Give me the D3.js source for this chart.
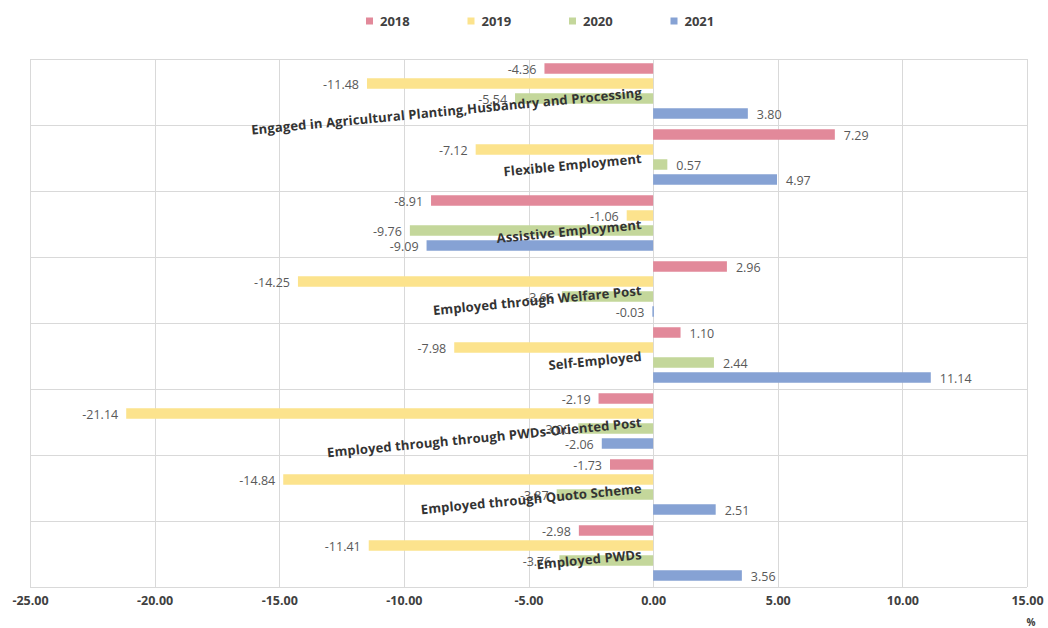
<!DOCTYPE html>
<html>
<head>
<meta charset="utf-8">
<script src="https://cdn.jsdelivr.net/npm/d3@7/dist/d3.min.js"></script>
<style>
  html, body { margin: 0; padding: 0; background: #fff; }
  svg { display: block; }
</style>
</head>
<body>
<svg id="chart" width="1048" height="628"></svg>
<script>
// Employment categories of persons with disabilities, top to bottom
const categories = [
  "Engaged in Agricultural Planting,Husbandry and Processing",
  "Flexible Employment",
  "Assistive Employment",
  "Employed through Welfare Post",
  "Self-Employed",
  "Employed through through PWDs-Oriented Post",
  "Employed through Quoto Scheme",
  "Employed PWDs"
];
const years = ["2018", "2019", "2020", "2021"];

// Year-on-year change (%) per category
const values2018 = [-4.36, 7.29, -8.91, 2.96, 1.10, -2.19, -1.73, -2.98];
const values2019 = [-11.48, -7.12, -1.06, -14.25, -7.98, -21.14, -14.84, -11.41];
const values2020 = [-5.54, 0.57, -9.76, -3.66, 2.44, -3.00, -3.87, -3.76];
const values2021 = [3.80, 4.97, -9.09, -0.03, 11.14, -2.06, 2.51, 3.56];

const xTicks = [-25, -20, -15, -10, -5, 0, 5, 10, 15];
const colors = ["#E2899A", "#FCE38D", "#C4D79B", "#86A2D4"];

const seriesValues = [values2018, values2019, values2020, values2021];

// Two-decimal format with a plain hyphen as the minus sign
const fmt = d3.formatLocale({
  decimal: ".", thousands: ",", grouping: [3], currency: ["", ""], minus: "-"
}).format(".2f");

const svg = d3.select("#chart");
const margin = { left: 30, right: 21, top: 59, bottom: 41 };
const W = 1048, H = 628;

const x = d3.scaleLinear()
  .domain([-25, 15])
  .range([margin.left, W - margin.right]);

const y = d3.scaleBand()
  .domain(categories)
  .range([margin.top, H - margin.bottom])
  .padding(0);

const yInner = d3.scaleBand()
  .domain(years)
  .range([2, y.bandwidth() - 4])
  .paddingInner(0.3)
  .paddingOuter(0.15);

const color = d3.scaleOrdinal().domain(years).range(colors);

// Grid: vertical lines at every tick, horizontal lines between categories
const grid = svg.append("g").attr("stroke", "#d9d9d9").attr("stroke-width", 1);
grid.selectAll("line.v")
  .data(xTicks)
  .join("line")
  .attr("class", "v")
  .attr("x1", d => Math.round(x(d)) + 0.5)
  .attr("x2", d => Math.round(x(d)) + 0.5)
  .attr("y1", margin.top)
  .attr("y2", H - margin.bottom);
grid.selectAll("line.h")
  .data(categories.concat([null]))
  .join("line")
  .attr("class", "h")
  .attr("x1", margin.left)
  .attr("x2", W - margin.right)
  .attr("y1", (d, i) => Math.round(i < categories.length ? y(d) : H - margin.bottom) + 0.5)
  .attr("y2", (d, i) => Math.round(i < categories.length ? y(d) : H - margin.bottom) + 0.5);

// Flattened records for bars and labels
const records = [];
categories.forEach((c, ci) => {
  years.forEach((yr, si) => {
    records.push({ category: c, year: yr, value: seriesValues[si][ci] });
  });
});

svg.append("g")
  .selectAll("rect")
  .data(records)
  .join("rect")
  .attr("x", d => Math.min(x(0), x(d.value)))
  .attr("width", d => Math.max(1.5, Math.abs(x(d.value) - x(0))))
  .attr("y", d => y(d.category) + yInner(d.year))
  .attr("height", yInner.bandwidth())
  .attr("fill", d => color(d.year));

// Value labels
svg.append("g")
  .attr("font-family", "'Open Sans', 'Noto Sans', sans-serif")
  .attr("font-size", 12.5)
  .attr("fill", "#595959")
  .selectAll("text")
  .data(records)
  .join("text")
  .attr("x", d => d.value < 0 ? x(d.value) - 8 : x(d.value) + 9)
  .attr("y", d => y(d.category) + yInner(d.year) + yInner.bandwidth() / 2 + 1)
  .attr("dominant-baseline", "central")
  .attr("text-anchor", d => d.value < 0 ? "end" : "start")
  .text(d => fmt(d.value));

// Category labels, slightly tilted, ending just left of the zero line
svg.append("g")
  .attr("font-family", "'Open Sans', 'Noto Sans', sans-serif")
  .attr("font-size", 13)
  .attr("font-weight", "bold")
  .attr("fill", "#333")
  .attr("letter-spacing", 0.15)
  .selectAll("text")
  .data(categories)
  .join("text")
  .attr("text-anchor", "end")
  .attr("transform", d => `translate(${x(0) - 11},${y(d) + y.bandwidth() / 2 + 5}) rotate(-5.5)`)
  .text(d => d);

// X axis tick labels
const xAxis = d3.axisBottom(x)
  .tickValues(xTicks)
  .tickFormat(fmt)
  .tickSize(0)
  .tickPadding(0);
const axisG = svg.append("g")
  .attr("transform", `translate(0,${H - margin.bottom})`)
  .call(xAxis);
axisG.select(".domain").remove();
axisG.selectAll("text")
  .attr("font-family", "'Open Sans', 'Noto Sans', sans-serif")
  .attr("font-size", 12.5)
  .attr("font-weight", "bold")
  .attr("fill", "#404040")
  .attr("dy", "1.4em");

svg.append("text")
  .attr("x", W - margin.right + 4)
  .attr("y", 626)
  .attr("text-anchor", "middle")
  .attr("font-family", "'Open Sans', 'Noto Sans', sans-serif")
  .attr("font-size", 10)
  .attr("font-weight", "bold")
  .attr("fill", "#404040")
  .text("%");

// Legend
const legend = svg.append("g")
  .selectAll("g")
  .data(years)
  .join("g")
  .attr("transform", (d, i) => `translate(${366 + i * 101.5},21)`);
legend.append("rect")
  .attr("x", 0).attr("y", -3.5)
  .attr("width", 7).attr("height", 7)
  .attr("fill", d => color(d));
legend.append("text")
  .attr("x", 14)
  .attr("dominant-baseline", "central")
  .attr("font-family", "'Open Sans', 'Noto Sans', sans-serif")
  .attr("font-size", 13)
  .attr("font-weight", "bold")
  .attr("fill", "#404040")
  .text(d => d);
</script>
</body>
</html>
